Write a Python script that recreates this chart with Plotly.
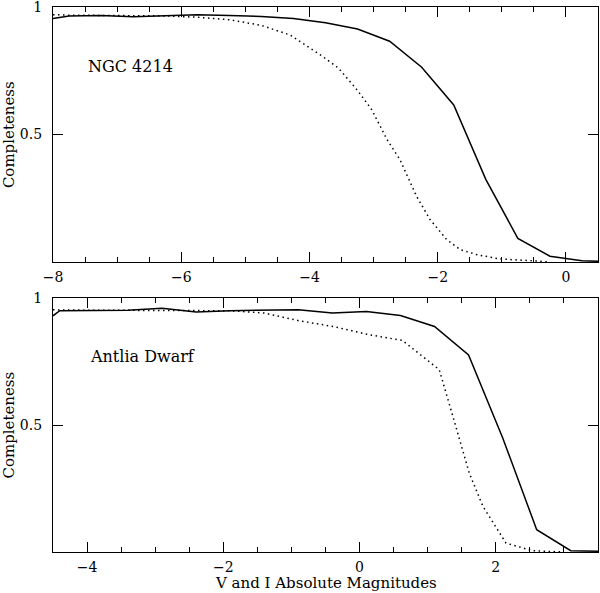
import plotly.graph_objects as go

# ---------------- data ----------------
# NGC 4214 (top panel)
ngc_solid_x = [-8.0, -7.75, -7.25, -6.75, -6.25, -5.75, -5.25, -4.75, -4.25, -3.75,
               -3.25, -2.75, -2.25, -1.75, -1.25, -0.75, -0.25, 0.25, 0.5]
ngc_solid_y = [0.955, 0.965, 0.967, 0.962, 0.966, 0.970, 0.967, 0.963, 0.955, 0.938,
               0.914, 0.866, 0.764, 0.616, 0.324, 0.093, 0.023, 0.005, 0.003]
ngc_dot_x = [-8.0, -7.75, -7.25, -6.75, -6.25, -5.75, -5.25, -4.75, -4.3, -3.8,
             -3.55, -3.26, -3.03, -2.79, -2.59, -2.33, -2.12, -1.86, -1.65, -1.39,
             -1.03, -0.51, -0.25]
ngc_dot_y = [0.970, 0.968, 0.967, 0.966, 0.965, 0.960, 0.950, 0.928, 0.890, 0.807,
             0.761, 0.676, 0.598, 0.480, 0.402, 0.258, 0.167, 0.088, 0.049, 0.029,
             0.012, 0.005, 0.0]

# Antlia Dwarf (bottom panel)
ant_solid_x = [-4.5, -4.4, -3.9, -3.4, -2.9, -2.4, -1.9, -1.4, -0.9, -0.4,
               0.1, 0.6, 1.1, 1.6, 2.1, 2.6, 3.1, 3.5]
ant_solid_y = [0.930, 0.950, 0.951, 0.952, 0.960, 0.945, 0.950, 0.953, 0.954, 0.941,
               0.947, 0.931, 0.888, 0.776, 0.450, 0.088, 0.005, 0.003]
ant_dot_x = [-4.5, -4.4, -3.9, -3.4, -2.9, -2.4, -1.9, -1.4, -0.88, -0.39,
             0.15, 0.63, 1.17, 1.37, 1.61, 1.81, 2.15, 2.54, 3.0]
ant_dot_y = [0.954, 0.953, 0.952, 0.952, 0.952, 0.952, 0.950, 0.941, 0.910, 0.888,
             0.855, 0.833, 0.718, 0.534, 0.311, 0.180, 0.035, 0.005, 0.0]

top_xticks = [-8, -6, -4, -2, 0]
bot_xticks = [-4, -2, 0, 2]
y_ticks = [0.5, 1]
y_ticklabels = ["0.5", "1"]

# ---------------- figure ----------------
FONT = "DejaVu Serif"
fig = go.Figure()

line_solid = dict(color="black", width=1.5)
line_dot = dict(color="black", width=1.5, dash="1.5px,3.5px")

fig.add_trace(go.Scatter(x=ngc_solid_x, y=ngc_solid_y, mode="lines", line=line_solid,
                         xaxis="x", yaxis="y", showlegend=False))
fig.add_trace(go.Scatter(x=ngc_dot_x, y=ngc_dot_y, mode="lines", line=line_dot,
                         xaxis="x", yaxis="y", showlegend=False))
fig.add_trace(go.Scatter(x=ant_solid_x, y=ant_solid_y, mode="lines", line=line_solid,
                         xaxis="x2", yaxis="y2", showlegend=False))
fig.add_trace(go.Scatter(x=ant_dot_x, y=ant_dot_y, mode="lines", line=line_dot,
                         xaxis="x2", yaxis="y2", showlegend=False))

def xaxis(rng, ticks, anchor):
    return dict(range=rng, tickvals=ticks, ticktext=["\u2212%d" % -t if t < 0 else "%d" % t for t in ticks],
                ticks="inside", ticklen=10, tickwidth=1.2, tickcolor="black",
                minor=dict(dtick=0.5, tick0=0, ticks="inside", ticklen=5, tickwidth=1.2, tickcolor="black"),
                showline=True, linecolor="black", linewidth=1.3, mirror="allticks",
                showgrid=False, zeroline=False, anchor=anchor, automargin=False,
                ticklabelstandoff=2,
                tickfont=dict(family=FONT, size=14, color="black"))

def yaxis(domain, anchor):
    return dict(range=[0, 1], domain=domain, tickvals=y_ticks, ticktext=y_ticklabels,
                ticks="inside", ticklen=10, tickwidth=1.2, tickcolor="black",
                showline=True, linecolor="black", linewidth=1.3, mirror="allticks",
                showgrid=False, zeroline=False, anchor=anchor, automargin=False,
                ticklabelstandoff=7, ticklabeloverflow="allow",
                tickfont=dict(family=FONT, size=14, color="black"))

ann_font = dict(family=FONT, size=16, color="black")
title_font = dict(family=FONT, size=15, color="black")

fig.update_layout(
    width=600, height=593,
    margin=dict(l=53, r=2, t=7, b=41),
    plot_bgcolor="white", paper_bgcolor="white",
    xaxis=xaxis([-8, 0.5], top_xticks, "y"),
    yaxis=yaxis([0.532, 1.0], "x"),
    xaxis2=xaxis([-4.5, 3.5], bot_xticks, "y2"),
    yaxis2=yaxis([0.0, 0.466], "x2"),
    annotations=[
        dict(text="NGC 4214", x=-7.48, y=0.768, xref="x", yref="y", xanchor="left",
             yanchor="middle", showarrow=False, font=ann_font),
        dict(text="Antlia Dwarf", x=-3.985, y=0.768, xref="x2", yref="y2", xanchor="left",
             yanchor="middle", showarrow=False, font=ann_font),
        dict(text="V and I Absolute Magnitudes", x=0.5, y=-0.056, xref="paper", yref="paper",
             xanchor="center", yanchor="middle", showarrow=False, font=title_font),
        dict(text="Completeness", x=-0.0815, y=0.766, xref="paper", yref="paper",
             xanchor="center", yanchor="middle", textangle=-90, showarrow=False, font=title_font),
        dict(text="Completeness", x=-0.0815, y=0.233, xref="paper", yref="paper",
             xanchor="center", yanchor="middle", textangle=-90, showarrow=False, font=title_font),
    ],
)

fig.write_html("out.html", config={"displayModeBar": False},
               post_script="document.body.style.margin='0';")
